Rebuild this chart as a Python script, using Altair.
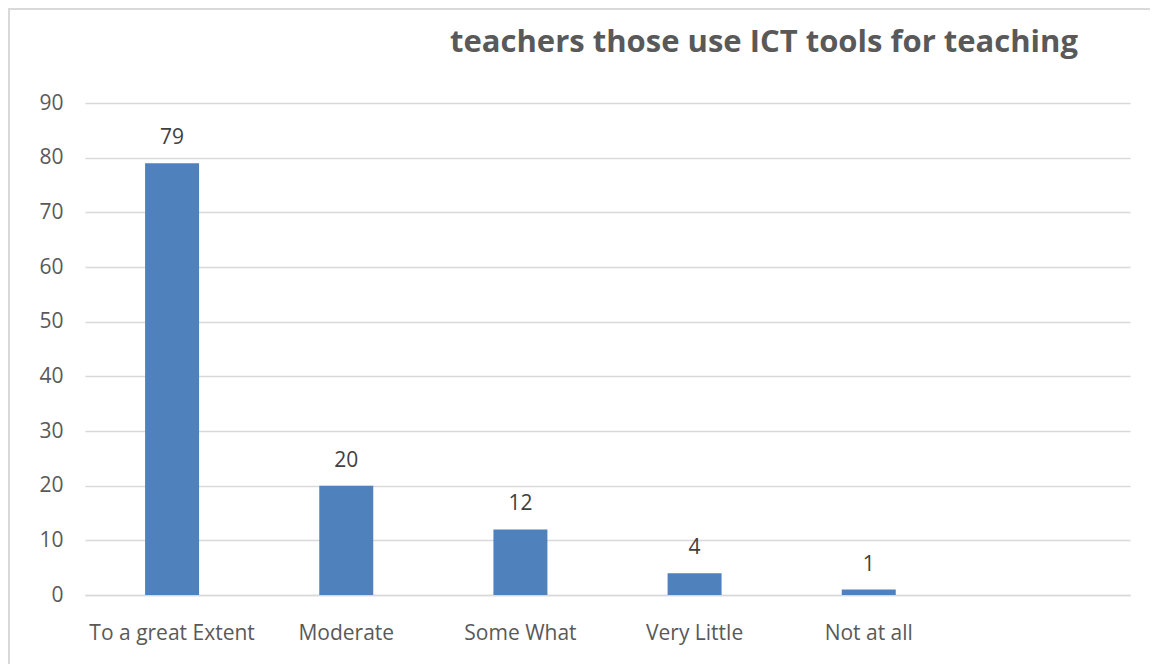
import altair as alt
import pandas as pd

categories = ["To a great Extent", "Moderate", "Some What", "Very Little", "Not at all"]
values = [79, 20, 12, 4, 1]
domain_slots = categories + [" "]
title_text = "teachers those use ICT tools for teaching"

df = pd.DataFrame({"category": categories, "value": values})
title_df = pd.DataFrame({"t": [title_text]})

W, H = 1045, 492
PL, PT = 77, 95
PR = 1142 - PL - W
PB = 656 - PT - H

x = alt.X(
    "category:N",
    sort=domain_slots,
    scale=alt.Scale(domain=domain_slots, paddingInner=0.69, paddingOuter=0.345),
    axis=alt.Axis(
        title=None, labelAngle=0, ticks=False, domain=True, domainColor="#D9D9D9",
        domainWidth=1.5, labelFont="Open Sans", labelFontSize=21, labelColor="#595959",
        labelPadding=27, grid=False,
    ),
)
y = alt.Y(
    "value:Q",
    scale=alt.Scale(domain=[0, 90], nice=False),
    axis=alt.Axis(
        title=None, values=list(range(0, 91, 10)), ticks=False, domain=False,
        gridColor="#D9D9D9", gridWidth=1.5, labelFont="Open Sans", labelFontSize=21,
        labelColor="#595959", labelPadding=22,
    ),
)

bars = alt.Chart(df).mark_bar(color="#4F81BD").encode(x=x, y=y)
labels = alt.Chart(df).mark_text(
    dy=-25, font="Open Sans", fontSize=21, color="#404040", baseline="middle"
).encode(x=x, y=y, text="value:Q")

title = alt.Chart(title_df).mark_text(
    font="Open Sans", fontSize=31, fontWeight="bold", color="#595959",
    align="center", baseline="alphabetic",
).encode(x=alt.value(679), y=alt.value(-51), text="t:N")

border_left = alt.Chart(df).mark_rule(color="#D9D9D9", strokeWidth=2).encode(
    x=alt.value(-PL + 1), y=alt.value(-PT), y2=alt.value(H + PB)
)
border_top = alt.Chart(df).mark_rule(color="#D9D9D9", strokeWidth=2).encode(
    x=alt.value(-PL), x2=alt.value(W + PR), y=alt.value(-PT + 1)
)

chart = alt.layer(bars, labels, title, border_left, border_top).properties(
    width=W,
    height=H,
    autosize=alt.AutoSizeParams(type="none"),
    padding={"left": PL, "top": PT, "right": PR, "bottom": PB},
).configure(background="white").configure_view(stroke="transparent")

chart.save("out.html", embed_options={"renderer": "svg", "actions": False})
